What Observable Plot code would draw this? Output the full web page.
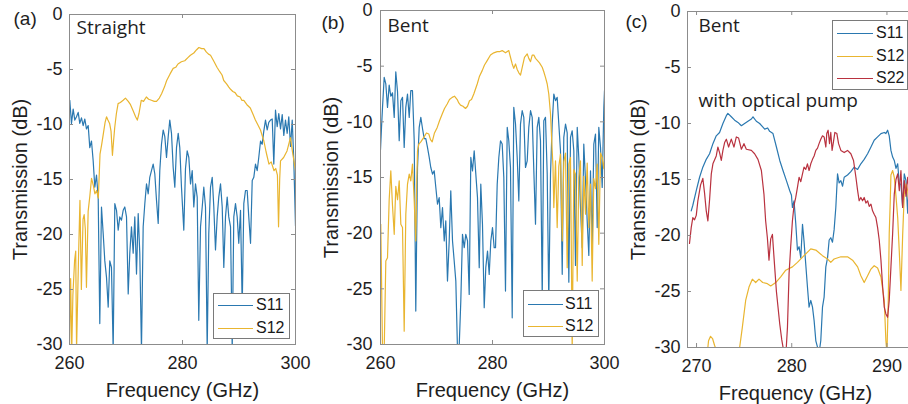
<!DOCTYPE html>
<html>
<head>
<meta charset="utf-8">
<script src="https://cdn.jsdelivr.net/npm/d3@7"></script>
<script src="https://cdn.jsdelivr.net/npm/@observablehq/plot@0.6"></script>
<style>
  html, body { margin: 0; padding: 0; background: #fff; }
  #wrap { position: relative; width: 908px; height: 404px; overflow: hidden; font-family: "Liberation Sans", Arial, sans-serif; }
  #wrap svg { position: absolute; top: 0; background: transparent; }
  .legend { position: absolute; box-sizing: border-box; background: #fff; border: 1px solid #7a7a7a; font-size: 16px; color: #1a1a1a; }
  .legend .row { position: absolute; left: 0; height: 20px; display: flex; align-items: center; white-space: nowrap; }
  .legend .sw { display: inline-block; height: 0; }
</style>
</head>
<body>
<div id="wrap"></div>
<script>
// ---------- tick labels / categories ----------
const xTicksAB = [260, 280, 300];
const xTicksC = [270, 280, 290];
const yTicks = [0, -5, -10, -15, -20, -25, -30];
const seriesNames = ["S11", "S12", "S22"];
const seriesColors = ["#2a78b0", "#e9b530", "#b9323f"];
const panelTags = ["(a)", "(b)", "(c)"];
const panelNotes = ["Straight", "Bent", "Bent"];
const pumpNote = "with optical pump";
const xLabel = "Frequency (GHz)";
const yLabel = "Transmission (dB)";

// ---------- (a) Straight ----------
const a_S11 = [[260.05,-7.8],[260.35,-9.9],[260.65,-8.6],[260.94,-9.6],[261.24,-9.3],[261.54,-8.9],[261.82,-9.9],[262.12,-9.4],[262.42,-10.1],[262.71,-9.5],[263.0,-10.4],[263.31,-10.1],[263.59,-12.1],[263.89,-11.5],[264.19,-13.3],[264.48,-15.7],[264.78,-14.6],[265.08,-16.7],[265.36,-28.1],[265.66,-17.5],[265.96,-19.9],[266.25,-22.4],[266.55,-23.9],[266.85,-26.6],[267.13,-22.4],[267.43,-23.0],[267.73,-30.5],[268.02,-17.2],[268.32,-17.8],[268.62,-19.6],[268.9,-18.4],[269.2,-18.7],[269.5,-17.8],[269.79,-17.5],[270.09,-18.4],[270.39,-25.4],[270.67,-21.7],[270.97,-19.3],[271.27,-21.7],[271.56,-18.4],[271.86,-23.6],[272.16,-18.1],[272.44,-21.7],[272.74,-30.5],[273.04,-19.3],[273.33,-17.2],[273.63,-15.4],[273.93,-16.3],[274.21,-14.8],[274.51,-14.2],[274.81,-13.6],[275.1,-14.5],[275.4,-16.9],[275.7,-19.0],[275.98,-14.2],[276.28,-11.8],[276.58,-10.5],[276.87,-11.1],[277.17,-13.0],[277.47,-11.1],[277.75,-9.6],[278.05,-10.8],[278.35,-13.9],[278.64,-15.7],[278.94,-12.1],[279.24,-10.8],[279.52,-12.1],[279.82,-15.7],[280.23,-19.6],[280.53,-14.0],[280.83,-12.4],[281.12,-13.0],[281.42,-15.4],[281.72,-14.2],[282.0,-17.5],[282.3,-15.4],[282.6,-16.6],[282.88,-27.8],[283.19,-19.3],[283.49,-17.5],[283.77,-15.7],[284.07,-17.5],[284.37,-30.5],[284.65,-19.9],[284.96,-15.7],[285.26,-14.8],[285.54,-17.5],[285.84,-21.4],[286.14,-18.4],[286.42,-16.6],[286.73,-15.4],[287.03,-17.5],[287.31,-23.0],[287.61,-18.4],[287.91,-16.6],[288.19,-18.4],[288.5,-19.3],[288.8,-30.5],[289.08,-18.4],[289.38,-17.2],[289.68,-18.4],[289.96,-20.8],[290.27,-17.8],[290.57,-26.6],[290.85,-17.2],[291.15,-16.0],[291.45,-16.0],[291.73,-18.4],[292.04,-20.8],[292.34,-15.1],[292.62,-14.8],[292.92,-13.6],[293.22,-14.2],[293.5,-13.0],[293.81,-11.5],[294.1,-11.8],[294.39,-10.6],[294.69,-9.6],[294.99,-10.5],[295.27,-9.8],[295.58,-9.6],[295.88,-9.5],[296.16,-13.6],[296.46,-8.7],[296.76,-10.2],[297.04,-9.0],[297.35,-10.4],[297.65,-9.1],[297.93,-11.0],[298.23,-9.6],[298.53,-10.8],[298.81,-9.3],[299.12,-12.0],[299.42,-9.6],[299.7,-13.3],[300.0,-19.2]];
const a_S12 = [[260.0,-30.5],[260.2,-24.0],[260.4,-30.5],[260.6,-25.5],[260.9,-22.4],[261.1,-21.5],[261.25,-30.5],[261.6,-22.0],[261.85,-16.9],[262.1,-25.0],[262.4,-18.6],[262.6,-18.2],[262.8,-19.5],[263.0,-24.8],[263.3,-17.9],[263.6,-16.5],[263.9,-14.9],[264.2,-15.5],[264.5,-16.3],[264.8,-16.0],[265.1,-16.7],[265.4,-12.7],[265.7,-11.8],[266.0,-10.8],[266.3,-9.8],[266.55,-9.3],[266.8,-9.6],[267.1,-9.9],[267.35,-10.6],[267.6,-12.8],[267.8,-11.5],[268.0,-10.3],[268.3,-9.0],[268.6,-8.1],[269.0,-8.0],[269.5,-7.8],[269.9,-7.6],[270.4,-7.9],[270.8,-8.2],[271.3,-8.8],[271.7,-9.3],[272.0,-9.6],[272.3,-9.0],[272.7,-7.8],[273.1,-7.9],[273.6,-7.5],[274.0,-7.7],[274.5,-7.8],[275.0,-7.9],[275.4,-7.9],[275.9,-7.6],[276.3,-7.2],[276.8,-6.6],[277.2,-6.0],[277.8,-5.4],[278.35,-4.9],[278.8,-4.8],[279.2,-4.5],[279.8,-4.3],[280.4,-4.2],[281.0,-3.9],[281.4,-3.7],[282.0,-3.5],[282.5,-3.2],[282.9,-3.0],[283.4,-3.1],[283.8,-3.1],[284.2,-3.4],[284.6,-3.6],[284.96,-3.7],[285.5,-4.2],[286.1,-4.8],[286.6,-5.2],[287.0,-5.5],[287.3,-6.0],[287.8,-6.3],[288.2,-6.6],[288.5,-6.8],[288.9,-7.0],[289.3,-7.1],[289.7,-7.4],[290.2,-7.5],[290.5,-7.8],[290.85,-7.8],[291.4,-8.2],[292.0,-8.5],[292.5,-9.1],[292.9,-9.6],[293.4,-10.1],[293.8,-10.5],[294.1,-11.0],[294.4,-11.5],[294.8,-12.5],[295.3,-13.6],[295.7,-13.4],[296.2,-14.2],[296.5,-14.0],[296.8,-14.6],[297.0,-19.3],[297.2,-15.0],[297.35,-13.3],[297.9,-13.0],[298.5,-12.4],[298.8,-11.8],[299.1,-11.2],[299.5,-12.6],[300.0,-14.2]];

// ---------- (b) Bent ----------
const b_S11 = [[260.0,-12.5],[260.18,-10.5],[260.36,-8.7],[260.66,-6.0],[260.95,-6.6],[261.25,-8.7],[261.55,-6.7],[261.84,-7.7],[262.14,-7.4],[262.45,-9.6],[262.73,-5.5],[263.04,-7.3],[263.34,-11.7],[263.63,-8.1],[263.93,-7.8],[264.23,-12.3],[264.52,-8.7],[264.82,-7.5],[265.13,-9.6],[265.41,-7.2],[265.71,-7.2],[266.02,-11.7],[266.3,-27.0],[266.61,-14.1],[266.91,-10.5],[267.2,-9.6],[267.5,-10.6],[267.8,-11.5],[268.09,-11.5],[268.39,-12.3],[268.7,-13.2],[268.98,-14.1],[269.29,-14.7],[269.59,-14.4],[269.88,-15.9],[270.18,-17.4],[270.48,-16.8],[270.77,-19.5],[271.07,-17.7],[271.38,-20.7],[271.66,-18.9],[271.96,-24.3],[272.27,-20.7],[272.55,-16.2],[272.86,-20.7],[273.16,-22.5],[273.45,-24.3],[273.75,-30.5],[274.05,-30.2],[274.34,-26.1],[274.64,-20.1],[274.95,-21.3],[275.23,-20.1],[275.54,-20.7],[275.84,-25.5],[276.13,-13.2],[276.43,-14.4],[276.73,-12.6],[277.02,-14.7],[277.32,-16.8],[277.63,-23.1],[277.91,-15.6],[278.21,-19.2],[278.52,-26.7],[278.8,-23.1],[279.11,-21.6],[279.41,-23.7],[279.7,-20.7],[280.0,-19.5],[280.3,-21.3],[280.54,-21.3],[280.84,-15.6],[281.13,-13.2],[281.43,-11.7],[281.73,-12.0],[282.02,-15.0],[282.32,-25.2],[282.63,-10.5],[282.91,-11.7],[283.21,-14.1],[283.52,-27.6],[283.8,-8.7],[284.11,-10.2],[284.41,-13.2],[284.7,-17.1],[285.0,-10.2],[285.3,-9.0],[285.59,-9.6],[285.89,-14.1],[286.2,-13.5],[286.48,-10.5],[286.79,-9.0],[287.09,-9.6],[287.38,-14.4],[287.68,-19.2],[287.98,-10.5],[288.27,-9.6],[288.57,-11.7],[288.88,-25.8],[289.16,-9.9],[289.46,-9.6],[289.77,-14.7],[290.05,-26.1],[290.36,-14.7],[290.66,-10.2],[290.95,-7.5],[291.25,-8.1],[291.55,-7.8],[291.84,-10.2],[292.14,-12.6],[292.45,-23.7],[292.73,-11.4],[293.04,-10.2],[293.34,-11.0],[293.63,-24.4],[293.93,-11.4],[294.23,-10.8],[294.52,-12.6],[294.82,-22.9],[295.13,-10.5],[295.41,-13.2],[295.71,-17.7],[296.02,-21.3],[296.3,-12.0],[296.61,-15.3],[296.91,-18.9],[297.2,-22.0],[297.5,-14.4],[297.8,-21.3],[298.09,-12.0],[298.39,-11.1],[298.7,-19.5],[298.98,-10.5],[299.29,-12.3],[299.59,-15.9],[299.88,-8.7],[300.0,-7.2]];
const b_S12 = [[260.05,-19.2],[260.36,-30.5],[260.66,-30.5],[260.95,-22.5],[261.25,-22.2],[261.55,-17.0],[261.84,-14.4],[262.14,-17.5],[262.45,-20.1],[262.73,-15.8],[263.04,-17.0],[263.34,-15.3],[263.63,-19.2],[263.93,-19.5],[264.23,-28.8],[264.52,-18.3],[264.82,-15.6],[265.13,-14.7],[265.41,-15.3],[265.71,-13.8],[266.02,-17.1],[266.3,-20.7],[266.48,-15.3],[266.61,-12.6],[266.84,-12.0],[267.2,-11.8],[267.73,-11.4],[268.2,-11.0],[268.63,-11.1],[268.93,-11.6],[269.23,-11.8],[269.64,-11.0],[270.13,-10.5],[270.54,-9.9],[271.02,-9.3],[271.43,-8.8],[271.91,-8.4],[272.32,-8.0],[272.8,-7.8],[273.21,-7.7],[273.7,-8.0],[273.98,-8.3],[274.29,-8.5],[274.73,-8.6],[275.18,-8.8],[275.54,-8.6],[275.89,-8.1],[276.25,-8.0],[276.66,-7.5],[277.27,-6.6],[277.68,-5.9],[278.16,-5.4],[278.57,-4.9],[279.05,-4.5],[279.64,-4.0],[280.23,-3.8],[280.84,-3.7],[281.25,-3.7],[281.73,-3.6],[282.32,-3.8],[282.91,-3.6],[283.21,-4.2],[283.52,-4.8],[283.8,-5.2],[284.11,-4.8],[284.41,-5.3],[284.7,-5.6],[285.0,-5.8],[285.36,-5.0],[285.71,-4.2],[286.2,-3.9],[286.48,-4.3],[286.79,-4.6],[287.09,-4.0],[287.38,-4.0],[287.68,-4.3],[288.04,-4.5],[288.39,-4.7],[288.88,-5.1],[289.16,-5.5],[289.46,-6.0],[289.77,-6.6],[290.05,-7.5],[290.36,-9.3],[290.66,-12.6],[290.8,-14.0],[290.95,-17.7],[291.25,-13.5],[291.55,-19.5],[291.84,-14.0],[292.14,-12.9],[292.45,-20.7],[292.73,-13.6],[293.04,-12.8],[293.34,-23.1],[293.63,-13.8],[293.93,-13.2],[294.23,-30.5],[294.52,-14.3],[294.82,-14.7],[295.13,-24.3],[295.41,-15.0],[295.71,-13.5],[296.02,-22.9],[296.3,-14.9],[296.61,-18.3],[296.91,-13.7],[297.2,-19.5],[297.5,-15.6],[297.8,-24.3],[298.09,-15.1],[298.39,-16.0],[298.7,-13.8],[298.98,-21.0],[299.29,-12.8],[299.59,-13.2],[299.88,-14.2],[300.0,-13.5]];

// ---------- (c) Bent, with optical pump ----------
const c_S11 = [[269.44,-17.8],[269.61,-17.3],[269.97,-16.0],[270.32,-14.8],[270.66,-13.9],[271.02,-13.2],[271.37,-12.7],[271.72,-11.8],[272.07,-11.1],[272.42,-10.8],[272.77,-10.0],[273.13,-9.3],[273.29,-9.1],[273.65,-9.4],[274.0,-9.7],[274.35,-9.9],[274.71,-10.2],[275.05,-10.0],[275.4,-9.8],[275.76,-9.6],[275.93,-9.4],[276.28,-9.8],[276.63,-10.0],[276.95,-10.3],[277.16,-10.5],[277.47,-10.4],[277.68,-10.7],[278.03,-10.9],[278.39,-12.1],[278.74,-13.3],[279.08,-14.2],[279.44,-15.1],[279.79,-16.0],[279.97,-16.4],[280.07,-17.5],[280.24,-16.9],[280.42,-18.9],[280.6,-21.3],[280.77,-21.0],[280.95,-22.0],[281.13,-19.0],[281.29,-20.5],[281.65,-24.6],[281.82,-26.4],[282.0,-25.8],[282.18,-26.4],[282.35,-27.6],[282.53,-29.4],[282.87,-30.5],[283.05,-29.4],[283.23,-26.4],[283.4,-25.5],[283.58,-22.8],[283.76,-22.0],[283.93,-20.4],[284.1,-20.2],[284.28,-20.6],[284.45,-19.5],[284.63,-17.5],[284.81,-14.5],[284.98,-15.3],[285.16,-15.1],[285.34,-15.6],[285.51,-14.8],[285.86,-14.6],[286.21,-14.3],[286.56,-13.9],[286.92,-14.1],[287.26,-13.6],[287.61,-13.2],[287.97,-12.7],[288.32,-12.1],[288.66,-11.5],[289.02,-11.2],[289.37,-10.9],[289.72,-10.8],[289.89,-10.9],[290.07,-10.6],[290.24,-11.1],[290.42,-12.4],[290.6,-13.0],[290.77,-13.3],[290.95,-14.0],[291.13,-13.6],[291.3,-15.4],[291.47,-15.4],[291.65,-17.5],[291.82,-14.5],[292.0,-15.1],[292.18,-18.0],[292.35,-14.5],[292.6,-16.0]];
const c_S12 = [[271.13,-30.5],[271.26,-29.4],[271.47,-29.0],[271.68,-29.2],[271.89,-29.8],[272.18,-30.5],[272.6,-32.0],[273.5,-33.0],[274.2,-31.5],[274.45,-30.5],[274.81,-28.2],[275.16,-25.8],[275.51,-24.6],[275.86,-23.9],[276.21,-24.2],[276.56,-23.9],[276.95,-24.2],[277.44,-24.3],[277.79,-24.5],[278.32,-24.2],[278.84,-23.7],[279.37,-23.1],[280.07,-22.8],[280.6,-22.4],[281.29,-21.8],[282.0,-21.2],[282.53,-21.3],[283.23,-21.8],[283.76,-22.1],[284.1,-22.4],[284.45,-22.1],[285.16,-21.9],[285.86,-21.9],[286.39,-22.2],[286.92,-22.8],[287.26,-23.6],[287.61,-24.2],[287.97,-23.6],[288.32,-23.0],[288.66,-22.7],[289.02,-22.9],[289.37,-23.7],[289.72,-25.8],[289.89,-29.4],[290.0,-30.5],[290.14,-25.8],[290.24,-19.8],[290.35,-16.9],[290.42,-14.6],[290.6,-14.2],[290.77,-14.8],[290.95,-16.5],[291.13,-18.4],[291.3,-21.5],[291.47,-24.9],[291.65,-20.0],[291.82,-16.3],[292.0,-15.4],[292.18,-16.0],[292.35,-17.5],[292.6,-16.5]];
const c_S22 = [[269.26,-20.7],[269.44,-19.3],[269.61,-18.4],[269.79,-18.6],[269.97,-18.2],[270.14,-16.9],[270.42,-15.5],[270.66,-14.9],[270.84,-16.2],[271.02,-17.8],[271.19,-18.7],[271.37,-16.8],[271.55,-14.5],[271.72,-13.6],[272.07,-12.9],[272.24,-12.1],[272.42,-12.6],[272.6,-13.3],[272.77,-12.4],[272.95,-11.7],[273.13,-11.4],[273.37,-12.1],[273.65,-11.4],[273.93,-12.1],[274.18,-11.2],[274.42,-11.3],[274.71,-12.3],[274.98,-11.8],[275.23,-12.3],[275.76,-12.4],[276.1,-12.7],[276.45,-13.2],[276.81,-14.2],[277.08,-16.3],[277.26,-18.7],[277.44,-20.2],[277.61,-22.2],[277.79,-20.3],[277.97,-19.9],[278.14,-22.0],[278.39,-25.0],[278.74,-27.9],[278.95,-29.3],[279.19,-30.5],[279.37,-30.8],[279.55,-28.2],[279.72,-23.4],[279.89,-21.0],[280.07,-18.7],[280.24,-17.3],[280.42,-16.6],[280.6,-15.7],[280.77,-14.8],[280.95,-15.2],[281.13,-14.5],[281.29,-13.9],[281.47,-14.1],[281.65,-13.6],[281.82,-14.2],[282.0,-13.6],[282.18,-13.2],[282.35,-12.9],[282.53,-12.4],[282.71,-12.2],[282.87,-11.8],[283.05,-11.4],[283.23,-11.1],[283.4,-11.2],[283.58,-12.1],[283.68,-10.9],[283.82,-10.6],[283.97,-11.8],[284.1,-10.8],[284.24,-12.4],[284.39,-11.6],[284.53,-10.8],[284.74,-10.9],[284.92,-11.8],[285.16,-12.4],[285.51,-12.6],[285.86,-12.4],[286.21,-12.7],[286.49,-13.3],[286.74,-14.8],[286.92,-16.0],[287.08,-16.9],[287.26,-16.6],[287.44,-16.9],[287.61,-16.6],[287.79,-17.1],[287.97,-16.9],[288.14,-17.4],[288.32,-17.2],[288.49,-17.8],[288.66,-18.1],[288.84,-18.4],[289.02,-19.3],[289.19,-20.4],[289.37,-22.2],[289.55,-24.6],[289.72,-26.4],[289.89,-27.0],[290.07,-27.3],[290.24,-25.8],[290.42,-22.8],[290.6,-19.8],[290.77,-16.3],[290.95,-15.0],[291.13,-14.5],[291.3,-16.0],[291.47,-14.2],[291.65,-17.5],[291.82,-15.1],[292.0,-16.5],[292.18,-14.8],[292.35,-16.0],[292.6,-15.2]];

// ---------- drawing ----------
const wrap = document.getElementById("wrap");
const FRAME = "#8c8c8c";
const TXT = "#1e1e1e";

function panel(cfg) {
  const H = 404 - cfg.mT - cfg.mB;
  const W = cfg.width - cfg.mL - cfg.mR;
  const marks = [
    ...cfg.series.map(s => Plot.line(s.data, {stroke: s.color, strokeWidth: 1.2, clip: true})),
    Plot.frame({stroke: FRAME}),
    Plot.ruleX(cfg.xTicks, {stroke: FRAME, insetTop: H - 4}),
    Plot.ruleX(cfg.xTicks, {stroke: FRAME, insetBottom: H - 4}),
    Plot.ruleY(yTicks, {stroke: FRAME, insetRight: W - 4}),
    Plot.ruleY(yTicks, {stroke: FRAME, insetLeft: W - 4}),
    Plot.axisX(cfg.xTicks, {tickSize: 0, tickPadding: 12, tickFormat: d => String(d), label: null, fontSize: 18, fill: TXT}),
    Plot.axisY(yTicks, {tickSize: 0, tickPadding: cfg.yPad, tickFormat: d => String(d), label: null, fontSize: 18, fill: TXT}),
    Plot.text([xLabel], {frameAnchor: "bottom", textAnchor: "middle", lineAnchor: "middle", dy: 46, dx: cfg.xLabelDx || 0, fontSize: 20, fill: TXT}),
    Plot.text([yLabel], {frameAnchor: "left", textAnchor: "middle", lineAnchor: "middle", dx: -49, rotate: -90, fontSize: 20, fill: TXT}),
    Plot.text([cfg.tag], {frameAnchor: "top-left", textAnchor: "start", lineAnchor: "middle", dx: cfg.tagDx, dy: cfg.tagDy, fontSize: 19, fill: TXT}),
    ...cfg.notes.map(n => Plot.text([n.text], {frameAnchor: "top-left", textAnchor: "start", lineAnchor: "middle", dx: n.dx, dy: n.dy, fontSize: 19, fontFamily: "Open Sans", fill: TXT}))
  ];
  const svg = Plot.plot({
    width: cfg.width, height: 404,
    marginLeft: cfg.mL, marginRight: cfg.mR, marginTop: cfg.mT, marginBottom: cfg.mB,
    x: {domain: cfg.xDomain},
    y: {domain: [-30, 0]},
    style: {fontFamily: "Liberation Sans, Arial, sans-serif", fontSize: "18px", color: TXT, background: "transparent", overflow: "visible"},
    marks
  });
  svg.style.left = cfg.left + "px";
  wrap.appendChild(svg);
}

function legend(cfg) {
  const box = document.createElement("div");
  box.className = "legend";
  Object.assign(box.style, {left: cfg.left + "px", top: cfg.top + "px", width: cfg.width + "px", height: cfg.height + "px"});
  cfg.items.forEach((it, i) => {
    const row = document.createElement("div");
    row.className = "row";
    row.style.top = (cfg.rowY[i] - 11) + "px";
    const sw = document.createElement("span");
    sw.className = "sw";
    Object.assign(sw.style, {width: cfg.swW + "px", marginLeft: "4px", marginRight: cfg.gap + "px", borderTop: "1.3px solid " + it.color});
    const tx = document.createElement("span");
    tx.textContent = it.name;
    row.appendChild(sw); row.appendChild(tx);
    box.appendChild(row);
  });
  wrap.appendChild(box);
}

panel({left: 0, width: 300, mL: 69, mR: 5, mT: 14, mB: 60, yPad: 7,
  xDomain: [260, 300], xTicks: xTicksAB,
  series: [{data: a_S11, color: seriesColors[0]}, {data: a_S12, color: seriesColors[1]}],
  tag: panelTags[0], tagDx: -56, tagDy: 4,
  notes: [{text: panelNotes[0], dx: 7, dy: 13}]});

panel({left: 310, width: 300, mL: 70, mR: 6, mT: 10, mB: 60, yPad: 8,
  xDomain: [260, 300], xTicks: xTicksAB,
  series: [{data: b_S11, color: seriesColors[0]}, {data: b_S12, color: seriesColors[1]}],
  tag: panelTags[1], tagDx: -59, tagDy: 12,
  notes: [{text: panelNotes[1], dx: 7, dy: 15}]});

panel({left: 615, width: 300, mL: 72, mR: 0, mT: 11, mB: 57, yPad: 7,
  xDomain: [269.05, 293.0], xTicks: xTicksC, xLabelDx: -6,
  series: [{data: c_S11, color: seriesColors[0]}, {data: c_S12, color: seriesColors[1]}, {data: c_S22, color: seriesColors[2]}],
  tag: panelTags[2], tagDx: -62, tagDy: 10,
  notes: [{text: panelNotes[2], dx: 11, dy: 14}, {text: pumpNote, dx: 11, dy: 89}]});

legend({left: 213, top: 293, width: 77, height: 46, swW: 35, gap: 3, rowY: [12, 35],
  items: [0, 1].map(i => ({name: seriesNames[i], color: seriesColors[i]}))});
legend({left: 523, top: 290, width: 76, height: 47, swW: 35, gap: 2, rowY: [14, 36],
  items: [0, 1].map(i => ({name: seriesNames[i], color: seriesColors[i]}))});
legend({left: 832, top: 20, width: 76, height: 70, swW: 36, gap: 3, rowY: [13, 36, 58],
  items: [0, 1, 2].map(i => ({name: seriesNames[i], color: seriesColors[i]}))});
</script>
</body>
</html>
